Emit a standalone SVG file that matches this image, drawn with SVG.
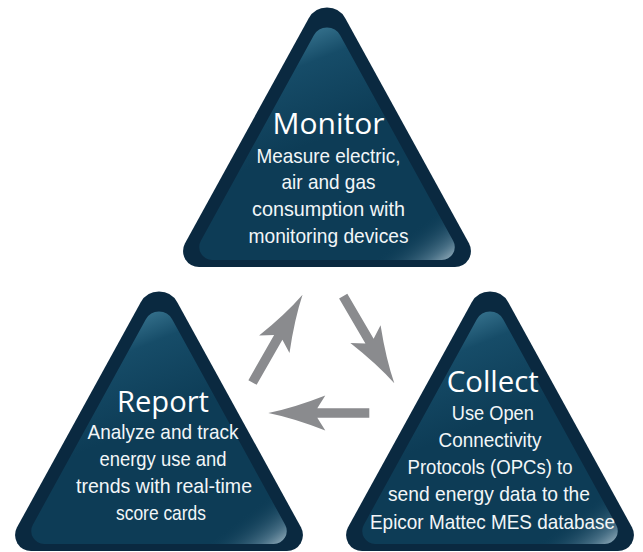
<svg xmlns="http://www.w3.org/2000/svg" xmlns:xlink="http://www.w3.org/1999/xlink" width="643" height="552" viewBox="0 0 643 552">
  <style>
    .outer { fill: #0a2940; }
    .inner { fill: url(#innerGrad); }
    .gloss { fill: url(#glossGrad); }
    .title { font-family: "Open Sans", "Liberation Sans", sans-serif; font-size: 29px; fill: #ffffff; text-anchor: middle; }
    .body { font-family: "Liberation Sans", Arial, sans-serif; font-size: 21px; fill: #f2f6f8; text-anchor: middle; }
    .arrow { fill: #8a8b8e; }
  </style>
  <defs>
    <linearGradient id="innerGrad" x1="0.35" y1="0" x2="0.55" y2="0.45">
      <stop offset="0" stop-color="#3f7d98"/>
      <stop offset="0.35" stop-color="#164c68"/>
      <stop offset="1" stop-color="#0d3c56"/>
    </linearGradient>
    <linearGradient id="glossGrad" x1="1" y1="1" x2="0.78" y2="0.74">
      <stop offset="0" stop-color="#b3c7d2" stop-opacity="0.9"/>
      <stop offset="0.2" stop-color="#6b8ea2" stop-opacity="0.6"/>
      <stop offset="0.6" stop-color="#0d3c56" stop-opacity="0"/>
    </linearGradient>
    <path id="outerShape" d="M -18.4,18.5 A 21 21 0 0 1 18.4,18.5 L 141.96,243.3 A 16 16 0 0 1 127.95,267 L -127.95,267 A 16 16 0 0 1 -141.96,243.3 Z"/>
    <path id="innerShape" d="M -13.15,35.3 A 15 15 0 0 1 13.15,35.3 L 126.1,240.7 A 13 13 0 0 1 114.7,260 L -114.7,260 A 13 13 0 0 1 -126.1,240.7 Z"/>
    <path id="arrowShape" d="M 0,-4.75 L 52,-4.75 L 44,-17.5 Q 76,-5 101,0 Q 76,5 44,17.5 L 52,4.75 L 0,4.75 Z"/>
  </defs>

  <g id="connectors">
    <use xlink:href="#arrowShape" class="arrow" transform="translate(252.5,382.5) rotate(-60.3)"/>
    <use xlink:href="#arrowShape" class="arrow" transform="translate(343.2,296.2) rotate(59.6)"/>
    <use xlink:href="#arrowShape" class="arrow" transform="translate(369.3,413) rotate(180)"/>
  </g>

  <g id="monitor">
    <g transform="translate(327,0)">
      <use xlink:href="#outerShape" class="outer"/>
      <use xlink:href="#innerShape" class="inner"/>
      <use xlink:href="#innerShape" class="gloss"/>
    </g>
    <text class="title" x="328.5" y="134.3" textLength="112" lengthAdjust="spacingAndGlyphs">Monitor</text>
    <text class="body" x="328.5" y="162.5" textLength="144" lengthAdjust="spacingAndGlyphs">Measure electric,</text>
    <text class="body" x="328.5" y="189.3" textLength="94" lengthAdjust="spacingAndGlyphs">air and gas</text>
    <text class="body" x="328.5" y="216" textLength="153" lengthAdjust="spacingAndGlyphs">consumption with</text>
    <text class="body" x="328.5" y="242.8" textLength="160" lengthAdjust="spacingAndGlyphs">monitoring devices</text>
  </g>

  <g id="report">
    <g transform="translate(159,284)">
      <use xlink:href="#outerShape" class="outer"/>
      <use xlink:href="#innerShape" class="inner"/>
      <use xlink:href="#innerShape" class="gloss"/>
    </g>
    <text class="title" x="163" y="411.7" textLength="92" lengthAdjust="spacingAndGlyphs">Report</text>
    <text class="body" x="163" y="439.3" textLength="151" lengthAdjust="spacingAndGlyphs">Analyze and track</text>
    <text class="body" x="163" y="466.3" textLength="127" lengthAdjust="spacingAndGlyphs">energy use and</text>
    <text class="body" x="164" y="493.3" textLength="176" lengthAdjust="spacingAndGlyphs">trends with real-time</text>
    <text class="body" x="161" y="520" textLength="90" lengthAdjust="spacingAndGlyphs">score cards</text>
  </g>

  <g id="collect">
    <g transform="translate(490,284)">
      <use xlink:href="#outerShape" class="outer"/>
      <use xlink:href="#innerShape" class="inner"/>
      <use xlink:href="#innerShape" class="gloss"/>
    </g>
    <text class="title" x="492.8" y="391.7" textLength="92" lengthAdjust="spacingAndGlyphs">Collect</text>
    <text class="body" x="492.8" y="419.5" textLength="82" lengthAdjust="spacingAndGlyphs">Use Open</text>
    <text class="body" x="490" y="446.8" textLength="103" lengthAdjust="spacingAndGlyphs">Connectivity</text>
    <text class="body" x="490" y="474" textLength="165" lengthAdjust="spacingAndGlyphs">Protocols (OPCs) to</text>
    <text class="body" x="489" y="501.3" textLength="202" lengthAdjust="spacingAndGlyphs">send energy data to the</text>
    <text class="body" x="492.5" y="528.6" textLength="245" lengthAdjust="spacingAndGlyphs">Epicor Mattec MES database</text>
  </g>
</svg>
